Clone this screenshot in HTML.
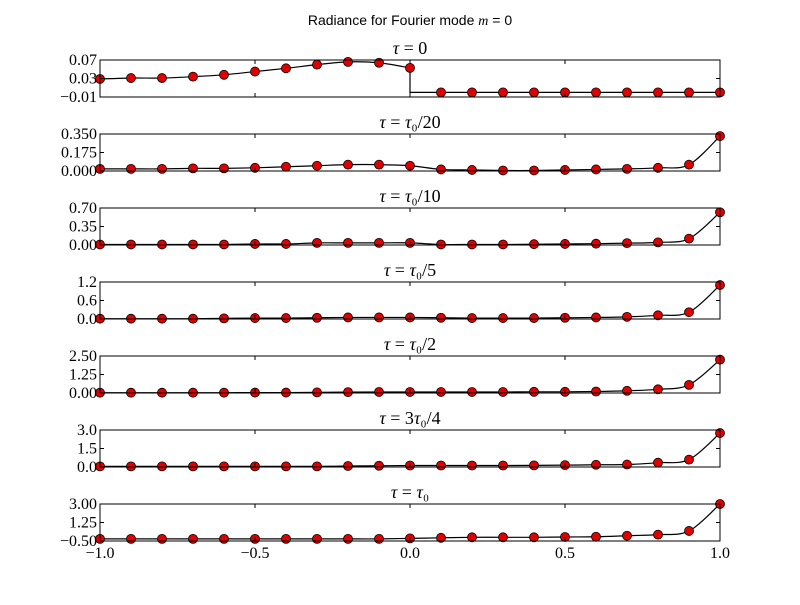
<!DOCTYPE html>
<html><head><meta charset="utf-8"><style>
body{margin:0;background:#fff}
svg text{font-family:"Liberation Serif","DejaVu Serif",serif;fill:#000}
</style></head><body>
<svg id="c" width="800" height="600">
<rect width="800" height="600" fill="#fff"/>
<text x="410" y="25" text-anchor="middle" font-size="14" style="font-family:'Liberation Sans',sans-serif">Radiance for Fourier mode <tspan font-style="italic" style="font-family:'Liberation Serif',serif">m</tspan> = 0</text>
</svg>
<script>
const xs=[-1,-0.9,-0.8,-0.7,-0.6,-0.5,-0.4,-0.3,-0.2,-0.1,0,0.1,0.2,0.3,0.4,0.5,0.6,0.7,0.8,0.9,1];
const titleRhs=["0","τ₀/20","τ₀/10","τ₀/5","τ₀/2","3τ₀/4","τ₀"];
const ylims=[[-0.01,0.07],[0,0.35],[0,0.7],[0,1.2],[0,2.5],[0,3],[-0.5,3]];
const yticks=[["−0.01","0.03","0.07"],["0.000","0.175","0.350"],["0.00","0.35","0.70"],["0.0","0.6","1.2"],["0.00","1.25","2.50"],["0.0","1.5","3.0"],["−0.50","1.25","3.00"]];
const s0=[0.029,0.031,0.031,0.034,0.038,0.045,0.052,0.060,0.066,0.064,0.053,0,0,0,0,0,0,0,0,0,0];
const s1=[0.02,0.02,0.02,0.025,0.025,0.03,0.04,0.05,0.06,0.06,0.05,0.015,0.01,0.005,0.005,0.01,0.015,0.02,0.03,0.06,0.33];
const s2=[0.01,0.01,0.01,0.01,0.01,0.02,0.02,0.04,0.04,0.04,0.04,0.01,0.01,0.01,0.015,0.02,0.025,0.035,0.05,0.12,0.62];
const s3=[0.01,0.01,0.01,0.01,0.02,0.03,0.03,0.04,0.05,0.05,0.05,0.04,0.03,0.03,0.03,0.04,0.05,0.07,0.12,0.22,1.1];
const s4=[0.02,0.02,0.02,0.02,0.02,0.03,0.03,0.04,0.06,0.07,0.07,0.07,0.07,0.07,0.08,0.08,0.1,0.15,0.25,0.55,2.25];
const s5=[0.05,0.05,0.05,0.05,0.05,0.05,0.05,0.05,0.08,0.1,0.12,0.12,0.12,0.12,0.13,0.15,0.18,0.2,0.35,0.6,2.75];
const s6=[-0.3,-0.3,-0.3,-0.3,-0.3,-0.3,-0.3,-0.3,-0.3,-0.3,-0.25,-0.2,-0.15,-0.15,-0.15,-0.12,-0.1,0,0.1,0.45,3.0];
const series=[s0,s1,s2,s3,s4,s5,s6];
const xtickVals=[-1,-0.5,0,0.5,1];
const xtickLabels=["−1.0","−0.5","0.0","0.5","1.0"];
const svg=document.getElementById('c');const NS='http://www.w3.org/2000/svg';
function mk(t,a,p){const e=document.createElementNS(NS,t);for(const k in a)e.setAttribute(k,a[k]);(p||svg).appendChild(e);return e;}
const L=100,R=720,H=37;
const X=v=>L+(v+1)/2*(R-L);
function spline(P){let d='M'+P[0][0]+','+P[0][1];
 for(let i=0;i<P.length-1;i++){const p0=P[Math.max(0,i-1)],p1=P[i],p2=P[i+1],p3=P[Math.min(P.length-1,i+2)];
  const c1=[p1[0]+(p2[0]-p0[0])/6,p1[1]+(p2[1]-p0[1])/6],c2=[p2[0]-(p3[0]-p1[0])/6,p2[1]-(p3[1]-p1[1])/6];
  d+='C'+c1+' '+c2+' '+p2;}return d;}
series.forEach((s,k)=>{
 const top=60+74*k,bot=top+H;const [y0,y1]=ylims[k];
 const Y=v=>bot-(v-y0)/(y1-y0)*H;
 const g=mk('g',{});
 
 
 const cp=mk('clipPath',{id:'cp'+k},g);mk('rect',{x:L,y:top,width:R-L,height:H},cp);
 let d;
 if(k===0){const P=[];s.forEach((v,i)=>{if(xs[i]<=0)P.push([X(xs[i]),Y(v)]);});d=spline(P)+'L'+X(0)+','+Y(s[11])+'L'+X(1)+','+Y(s[20]);}
 else d=spline(s.map((v,i)=>[X(xs[i]),Y(v)]));
 const ln=mk('path',{d:d,fill:'none',stroke:'#000','stroke-width':1.2,'clip-path':'url(#cp'+k+')'},g);
 
 
 s.forEach((v,i)=>{const c=mk('circle',{cx:X(xs[i]),cy:Y(v),r:4.5,fill:'#e00000',stroke:'#000','stroke-width':0.8},g);
  
  });
 mk('rect',{x:L,y:top,width:R-L,height:H,fill:'none',stroke:'#000','stroke-width':1},g);
 xtickVals.forEach(v=>{mk('line',{x1:X(v),x2:X(v),y1:bot,y2:bot-4,stroke:'#000'},g);mk('line',{x1:X(v),x2:X(v),y1:top,y2:top+4,stroke:'#000'},g);});
 yticks[k].forEach((t,j)=>{const yy=bot-j*H/2;mk('line',{x1:L,x2:L+4,y1:yy,y2:yy,stroke:'#000'},g);mk('line',{x1:R,x2:R-4,y1:yy,y2:yy,stroke:'#000'},g);
  const tx=mk('text',{x:L-3,y:yy+5,'text-anchor':'end','font-size':16},g);tx.textContent=t;
  
  });
 const tt=mk('text',{x:410,y:top-6,'text-anchor':'middle','font-size':18},g);
 tt.innerHTML='<tspan font-style="italic">τ</tspan> = '+titleRhs[k].replace(/τ/g,'<tspan font-style="italic">τ</tspan>');
 
 
 if(k===6)xtickVals.forEach((v,j)=>{const tx=mk('text',{x:X(v),y:bot+17,'text-anchor':'middle','font-size':16},g);tx.textContent=xtickLabels[j];
  
  });
});
</script>
</body></html>
